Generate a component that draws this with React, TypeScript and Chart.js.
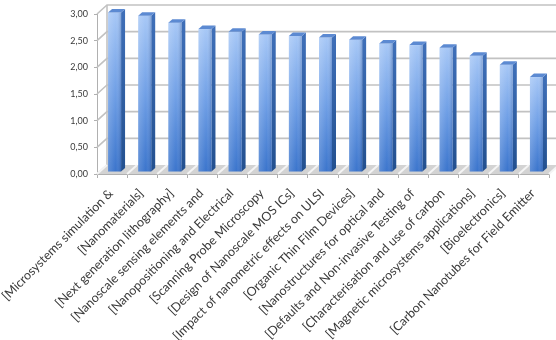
import React, { useEffect, useRef } from "react";
import { Chart, registerables } from "chart.js";

Chart.register(...registerables);

const categories: string[] = [
  "[Microsystems simulation &",
  "[Nanomaterials]",
  "[Next generation lithography]",
  "[Nanoscale sensing elements and",
  "[Nanopositioning and Electrical",
  "[Scanning Probe Microscopy",
  "[Design of Nanoscale MOS ICs]",
  "[Impact of nanometric effects on ULSI",
  "[Organic Thin Film Devices]",
  "[Nanostructures for optical and",
  "[Defaults and Non-invasive Testing of",
  "[Characterisation and use of carbon",
  "[Magnetic microsystems applications]",
  "[Bioelectronics]",
  "[Carbon Nanotubes for Field Emitter",
];

const values: number[] = [2.99, 2.93, 2.8, 2.68, 2.63, 2.58, 2.55, 2.52, 2.48, 2.41, 2.38, 2.33, 2.18, 2.01, 1.78];

const yTicks: number[] = [0, 0.5, 1, 1.5, 2, 2.5, 3];

const WALL_DX = 10;
const WALL_DY = 9;
const BAR_OX = 2.5;
const BAR_OY = -2;
const BAR_DX = 4;
const BAR_DY = 3.5;
const GRID = "#c2c2c2";

function drawBackground(chart: any) {
  const ctx = chart.ctx;
  const ca = chart.chartArea;
  const yScale = chart.scales.y;
  const { left, right, top, bottom } = ca;
  ctx.save();
  ctx.strokeStyle = GRID;
  ctx.lineWidth = 1.6;
  for (let i = 0; i < yTicks.length; i++) {
    const t = yTicks[i];
    const y = yScale.getPixelForValue(t);
    ctx.beginPath();
    ctx.moveTo(left, y);
    ctx.lineTo(left + WALL_DX, y - WALL_DY);
    if (t > 0) ctx.lineTo(right + 20, y - WALL_DY);
    ctx.stroke();
  }
  ctx.beginPath();
  ctx.moveTo(left + WALL_DX, top - WALL_DY);
  ctx.lineTo(left + WALL_DX, bottom - WALL_DY);
  ctx.stroke();
  ctx.beginPath();
  ctx.moveTo(left, bottom);
  ctx.lineTo(left + WALL_DX, bottom - WALL_DY);
  ctx.lineTo(right + WALL_DX, bottom - WALL_DY);
  ctx.lineTo(right, bottom);
  ctx.closePath();
  ctx.fillStyle = "#d3d3d3";
  ctx.fill();
  ctx.strokeStyle = "#f4f4f4";
  ctx.lineWidth = 2;
  const n = categories.length;
  const cw = (right - left) / n;
  for (let i = 0; i <= n; i++) {
    const x = left + i * cw;
    ctx.beginPath();
    ctx.moveTo(x, bottom);
    ctx.lineTo(x + WALL_DX, bottom - WALL_DY);
    ctx.stroke();
  }
  ctx.restore();
}

function drawBars(chart: any) {
  const ctx = chart.ctx;
  const meta = chart.getDatasetMeta(0);
  ctx.save();
  meta.data.forEach((bar: any) => {
    const p = bar.getProps(["x", "y", "base", "width"], true);
    const L = p.x - p.width / 2 + BAR_OX;
    const R = p.x + p.width / 2 + BAR_OX;
    const T = p.y + BAR_OY;
    const B = p.base + BAR_OY;
    const sg = ctx.createLinearGradient(0, T, 0, B);
    sg.addColorStop(0, "#3f6fb8");
    sg.addColorStop(1, "#23508f");
    ctx.beginPath();
    ctx.moveTo(R, T);
    ctx.lineTo(R + BAR_DX, T - BAR_DY);
    ctx.lineTo(R + BAR_DX, B - BAR_DY);
    ctx.lineTo(R, B);
    ctx.closePath();
    ctx.fillStyle = sg;
    ctx.fill();
    const fg = ctx.createLinearGradient(0, T, 0, B);
    fg.addColorStop(0, "#a6c7f6");
    fg.addColorStop(0.5, "#6f9fe6");
    fg.addColorStop(1, "#3a74cc");
    ctx.fillStyle = fg;
    ctx.fillRect(L, T, R - L, B - T);
    const hg = ctx.createLinearGradient(L, 0, R, 0);
    hg.addColorStop(0, "rgba(255,255,255,0.18)");
    hg.addColorStop(0.6, "rgba(255,255,255,0)");
    hg.addColorStop(1, "rgba(20,50,110,0.25)");
    ctx.fillStyle = hg;
    ctx.fillRect(L, T, R - L, B - T);
    ctx.beginPath();
    ctx.moveTo(L, T);
    ctx.lineTo(R, T);
    ctx.lineTo(R + BAR_DX, T - BAR_DY);
    ctx.lineTo(L + BAR_DX, T - BAR_DY);
    ctx.closePath();
    ctx.fillStyle = "#5c8ad2";
    ctx.fill();
  });
  ctx.restore();
}

const threeD = {
  id: "threeD",
  afterDatasetsDraw(chart: any) {
    drawBackground(chart);
    drawBars(chart);
  },
};

export default function App() {
  const ref = useRef<HTMLCanvasElement | null>(null);
  useEffect(() => {
    if (!ref.current) return;
    const chart = new Chart(ref.current, {
      type: "bar",
      data: {
        labels: categories,
        datasets: [
          {
            data: values,
            backgroundColor: "rgba(0,0,0,0)",
            borderWidth: 0,
            barThickness: 13,
          },
        ],
      },
      options: {
        animation: false,
        responsive: true,
        maintainAspectRatio: false,
        layout: { padding: { top: 14, right: 7, left: 0, bottom: 0 } },
        plugins: { legend: { display: false }, tooltip: { enabled: false } },
        scales: {
          x: {
            offset: true,
            grid: { drawOnChartArea: false, tickLength: 4, color: "#b0b0b0", offset: true },
            border: { color: "#b0b0b0" },
            ticks: {
              autoSkip: false,
              maxRotation: 45,
              minRotation: 45,
              padding: 8,
              labelOffset: -1,
              color: "#3a3a3a",
              font: { family: "Lato", size: 12.5 },
            },
            afterFit: (s: any) => {
              s.height = 166;
              s.paddingLeft = 0;
              s.paddingRight = 0;
            },
          },
          y: {
            min: 0,
            max: 3,
            afterBuildTicks: (s: any) => {
              s.ticks = yTicks.map((v) => ({ value: v }));
            },
            grid: { drawOnChartArea: false, tickLength: 3, color: "#b0b0b0" },
            border: { color: "#b0b0b0" },
            ticks: {
              padding: 6,
              color: "#3a3a3a",
              font: { family: "Lato", size: 9 },
              callback: (v: any) => Number(v).toFixed(2).replace(".", ","),
            },
            afterFit: (s: any) => {
              s.width = 97;
              s.paddingTop = 0;
              s.paddingBottom = 0;
            },
          },
        },
      },
      plugins: [threeD],
    });
    return () => chart.destroy();
  }, []);
  return (
    <div style={{ position: "absolute", left: 0, top: 0, width: 556, height: 340, background: "#fff" }}>
      <canvas ref={ref} />
    </div>
  );
}
